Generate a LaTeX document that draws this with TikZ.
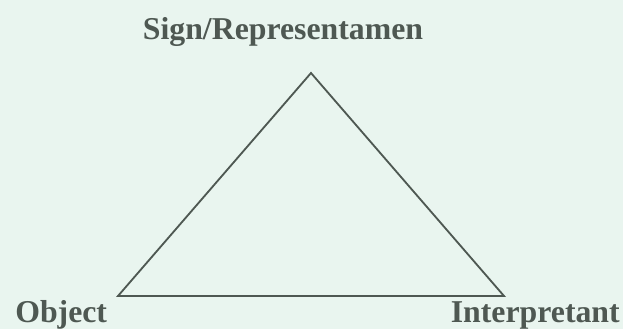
\documentclass[tikz,border=0pt]{standalone}
\usepackage{fontspec}
\setmainfont{Liberation Serif}
\definecolor{bgmint}{RGB}{233,245,239}
\definecolor{inkgrey}{RGB}{78,88,82}

\begin{document}
\begin{tikzpicture}[
  x=0.025cm, y=-0.025cm,
  every node/.style={font=\fontsize{22.6}{26}\selectfont\bfseries, text=inkgrey, inner sep=0pt},
  side/.style={draw=inkgrey, line width=1.3pt, line join=miter}
]
  % background and size
  \fill[bgmint] (0,0) rectangle (623,329);
  \useasboundingbox (0,0) rectangle (623,329);

  \coordinate (sign) at (311,73);
  \coordinate (object) at (118,296);
  \coordinate (interp) at (504,296);

  \node[anchor=base] (signlbl) at (283,39) {Sign/Representamen};
  \node[anchor=base west] (objlbl) at (15,322) {Object};
  \node[anchor=base east] (interplbl) at (620,322) {Interpretant};

  \draw[side] (sign) -- (object) -- (interp) -- cycle;
\end{tikzpicture}
\end{document}
